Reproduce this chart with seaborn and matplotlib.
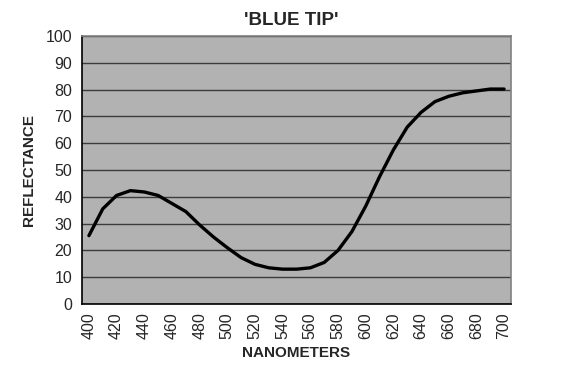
import numpy as np
import pandas as pd
import matplotlib
matplotlib.use("Agg")
import matplotlib.pyplot as plt
import seaborn as sns

wavelength = list(range(400, 701, 10))
reflectance = [25.5, 35.5, 40.5, 42.3, 41.8, 40.5, 37.5, 34.5, 29.5, 25.0,
               21.0, 17.3, 14.8, 13.5, 13.0, 13.0, 13.5, 15.5, 20.0, 27.0,
               36.5, 47.5, 57.5, 66.0, 71.5, 75.5, 77.5, 78.8, 79.5, 80.2, 80.2]
x_tick_labels = [str(v) for v in range(400, 701, 20)]
y_ticks = list(range(0, 101, 10))

df = pd.DataFrame({"nm": wavelength, "refl": reflectance})

sns.set_style("white")
plt.rcParams['font.family'] = ['Liberation Sans', 'DejaVu Sans']

fig = plt.figure(figsize=(5.76, 3.75), dpi=100)
ax = fig.add_axes([82/576, 1-304/375, (511-82)/576, (304-36)/375])
ax.set_facecolor("#b2b2b2")

sns.lineplot(data=df, x="nm", y="refl", ax=ax, color="black", linewidth=2.4)

ax.set_xlim(395, 705)
ax.set_ylim(0, 100)
ax.set_yticks(y_ticks)
ax.set_yticklabels([str(v) for v in y_ticks], fontsize=11.5)
ax.set_xticks(list(range(400, 701, 20)))
ax.set_xticklabels(x_tick_labels, rotation=90, fontsize=11.5)
ax.set_xticks(list(np.arange(395, 706, 10)), minor=True)
ax.tick_params(axis="x", which="major", length=0, pad=6)
ax.tick_params(axis="x", which="minor", length=4, width=1, color="black", direction="out")
ax.tick_params(axis="y", which="major", length=4, width=1, color="black", direction="out", pad=3)

ax.yaxis.grid(True, color="#3c3c3c", linewidth=1)
ax.xaxis.grid(False)
ax.set_axisbelow(True)

for s in ["top", "right"]:
    ax.spines[s].set_color("#808080")
    ax.spines[s].set_linewidth(1.2)
for s in ["left", "bottom"]:
    ax.spines[s].set_color("black")
    ax.spines[s].set_linewidth(1.2)

ax.set_xlabel("NANOMETERS", fontsize=11, fontweight="bold", labelpad=5)
ax.set_ylabel("REFLECTANCE", fontsize=11, fontweight="bold", labelpad=7)
ax.set_title("'BLUE TIP'", fontsize=13.5, fontweight="bold", pad=8, x=0.488)

fig.savefig("out.png", dpi=100, facecolor="white")
